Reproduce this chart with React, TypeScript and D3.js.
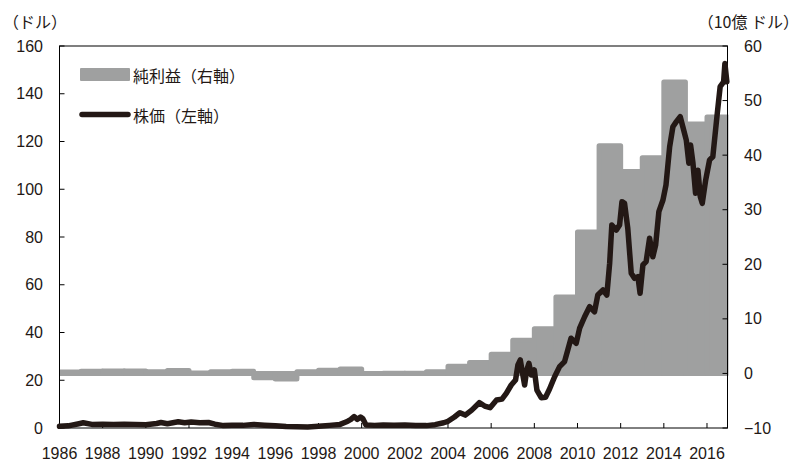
import React from 'react';
import * as d3 from 'd3';

// net income per year step (10億ドル)
const barYears = [1986, 1987, 1988, 1989, 1990, 1991, 1992, 1993, 1994, 1995, 1996, 1997, 1998, 1999, 2000,
  2001, 2002, 2003, 2004, 2005, 2006, 2007, 2008, 2009, 2010, 2011, 2012, 2013, 2014, 2015, 2016];
const netIncome = [0.25, 0.4, 0.45, 0.45, 0.3, 0.55, 0.1, 0.3, 0.4, -0.8, -1.0, 0.3, 0.6, 0.8, 0.0,
  0.05, 0.05, 0.3, 1.3, 2.0, 3.5, 6.1, 8.2, 14.0, 25.9, 41.7, 37.0, 39.5, 53.4, 45.7, 47.0];

// stock price (ドル)
const priceDates = [1986.0, 1986.4, 1986.9, 1987.1, 1987.5, 1988.0, 1988.5, 1989.0, 1989.5, 1990.0, 1990.5, 1990.7,
  1991.0, 1991.5, 1991.8, 1992.1, 1992.5, 1992.9, 1993.2, 1993.6, 1994.0, 1994.5, 1995.0, 1995.5, 1996.0, 1996.5,
  1997.0, 1997.5, 1998.0, 1998.5, 1999.0, 1999.3, 1999.5, 1999.65, 1999.8, 1999.95, 2000.05, 2000.2, 2000.6, 2001.0,
  2001.5, 2002.0, 2002.5, 2003.0, 2003.4, 2003.8, 2004.0, 2004.3, 2004.55, 2004.8, 2005.1, 2005.45, 2005.7, 2005.95,
  2006.25, 2006.5, 2006.7, 2006.93, 2007.13, 2007.24, 2007.35, 2007.44, 2007.55, 2007.65, 2007.75, 2007.86, 2008.0,
  2008.12, 2008.32, 2008.52, 2008.7, 2008.94, 2009.17, 2009.4, 2009.55, 2009.7, 2009.94, 2010.1, 2010.33, 2010.56,
  2010.79, 2010.94, 2011.18, 2011.36, 2011.49, 2011.59, 2011.8, 2011.95, 2012.06, 2012.18, 2012.33, 2012.49, 2012.64,
  2012.8, 2012.9, 2013.03, 2013.18, 2013.34, 2013.49, 2013.62, 2013.77, 2013.96, 2014.1, 2014.27, 2014.42, 2014.58,
  2014.76, 2014.88, 2015.04, 2015.16, 2015.24, 2015.35, 2015.47, 2015.58, 2015.69, 2015.78, 2015.94, 2016.12, 2016.27,
  2016.46, 2016.61, 2016.77, 2016.83, 2016.92];
const priceValues = [0.7, 0.9, 1.8, 2.2, 1.5, 1.6, 1.5, 1.6, 1.5, 1.4, 1.9, 2.3,
  1.8, 2.6, 2.2, 2.5, 2.2, 2.3, 1.6, 1.0, 1.2, 1.1, 1.5, 1.2, 0.9, 0.6,
  0.5, 0.4, 0.7, 1.1, 1.5, 2.6, 3.6, 4.8, 3.6, 4.6, 4.0, 1.3, 1.1, 1.3,
  1.2, 1.3, 1.0, 1.0, 1.4, 2.2, 2.8, 4.6, 6.4, 5.4, 7.5, 10.6, 9.2, 8.5,
  11.7, 12.1, 14.5, 18.0, 20.1, 26.4, 28.5, 23.6, 18.0, 24.3, 27.1, 22.2, 24.3,
  15.9, 12.7, 12.9, 16.2, 21.5, 25.7, 27.8, 32.7, 37.6, 35.5, 41.8, 46.6, 50.8,
  48.7, 55.7, 57.8, 55.7, 69.0, 85.0, 82.9, 85.0, 94.8, 94.1, 83.6, 64.8, 62.7,
  63.4, 56.4, 68.3, 69.7, 79.5, 71.7, 76.6, 90.6, 95.5, 101.8, 117.8, 126.2, 128.3,
  130.4, 126.2, 120.6, 110.9, 118.5, 110.9, 98.3, 108.0, 96.9, 94.1, 103.9, 112.3, 113.6,
  130.4, 143.0, 145.0, 152.7, 145.0];

const leftTicks = [0, 20, 40, 60, 80, 100, 120, 140, 160];
const rightTicks = [-10, 0, 10, 20, 30, 40, 50, 60];
const yearTicks = [1986, 1988, 1990, 1992, 1994, 1996, 1998, 2000, 2002, 2004, 2006, 2008, 2010, 2012, 2014, 2016];

const GRAY = '#9fa0a0';
const INK = '#231815';
const NUM_FONT = '"Liberation Sans", Arial, Helvetica, sans-serif';
const JP_FONT = '"Noto Sans CJK JP", "Noto Sans", sans-serif';

export default function App() {
  const width = 799, height = 463;
  const left = 59.5, right = 727.5, top = 46, bottom = 428;
  const xEnd = 2016.95;

  const x = d3.scaleLinear().domain([1986, xEnd]).range([left, right]);
  const yL = d3.scaleLinear().domain([0, 160]).range([bottom, top]);
  const yR = d3.scaleLinear().domain([-10, 60]).range([bottom, top]);

  const priceData: [number, number][] = priceDates.map((d, i) => [d, priceValues[i]]);
  const line = d3.line<[number, number]>()
    .x(d => x(d[0]))
    .y(d => yL(d[1]));

  return (
    <svg width={width} height={height} style={{ position: 'absolute', left: 0, top: 0, background: '#fff' }}>
      <defs>
        <clipPath id="plotclip">
          <rect x={left} y={0} width={right - left + 1} height={height} />
        </clipPath>
      </defs>

      {/* net income bars */}
      <g clipPath="url(#plotclip)">
        {barYears.map((yr, i) => {
          const v = netIncome[i];
          const x0 = x(yr), x1 = x(Math.min(yr + 1, xEnd));
          const ya = yR(Math.max(v, 0)), yb = yR(Math.min(v, 0));
          return (
            <rect key={yr} x={x0} y={ya} width={x1 - x0} height={Math.max(yb - ya, 0.01)}
              fill={GRAY} stroke={GRAY} strokeWidth={5} strokeLinejoin="round" />
          );
        })}
      </g>

      {/* frame */}
      <rect x={left} y={top} width={right - left} height={bottom - top} fill="none" stroke="#000" strokeWidth={1} />

      {/* left ticks */}
      {leftTicks.map(t => (
        <g key={'l' + t}>
          <line x1={left} x2={left + 5} y1={yL(t)} y2={yL(t)} stroke="#000" strokeWidth={1} />
          <text x={43} y={yL(t)} dy="0.35em" textAnchor="end" fontFamily={NUM_FONT} fontSize={16} fill="#231815">{t}</text>
        </g>
      ))}

      {/* right ticks */}
      {rightTicks.map(t => (
        <g key={'r' + t}>
          <line x1={right - 5} x2={right} y1={yR(t)} y2={yR(t)} stroke="#000" strokeWidth={1} />
          <text x={744} y={yR(t)} dy="0.35em" textAnchor="start" fontFamily={NUM_FONT} fontSize={16} fill="#231815">
            {t < 0 ? '\u2212' + Math.abs(t) : t}
          </text>
        </g>
      ))}

      {/* x ticks */}
      {yearTicks.map(t => (
        <g key={'x' + t}>
          <line x1={x(t)} x2={x(t)} y1={bottom} y2={bottom - 5} stroke="#000" strokeWidth={1} />
          <text x={x(t)} y={459} textAnchor="middle" fontFamily={NUM_FONT} fontSize={16} fill="#231815">{t}</text>
        </g>
      ))}

      {/* stock price line */}
      <path d={line(priceData) || ''} fill="none" stroke={INK} strokeWidth={5.5}
        strokeLinejoin="round" strokeLinecap="round" />

      {/* axis titles */}
      <text x={3} y={21} dominantBaseline="central" fontFamily={JP_FONT} fontSize={16} fill="#231815">（ドル）</text>
      <text x={799} y={21} textAnchor="end" dominantBaseline="central" fontFamily={JP_FONT} fontSize={16} fill="#231815">（10億 ドル）</text>

      {/* legend */}
      <rect x={80} y={68} width={50} height={13} fill={GRAY} rx={1} />
      <text x={133} y={75} dominantBaseline="central" fontFamily={JP_FONT} fontSize={16} fill="#231815">純利益（右軸）</text>
      <line x1={82} x2={128} y1={114.5} y2={114.5} stroke={INK} strokeWidth={5.5} strokeLinecap="round" />
      <text x={133} y={114.5} dominantBaseline="central" fontFamily={JP_FONT} fontSize={16} fill="#231815">株価（左軸）</text>
    </svg>
  );
}
